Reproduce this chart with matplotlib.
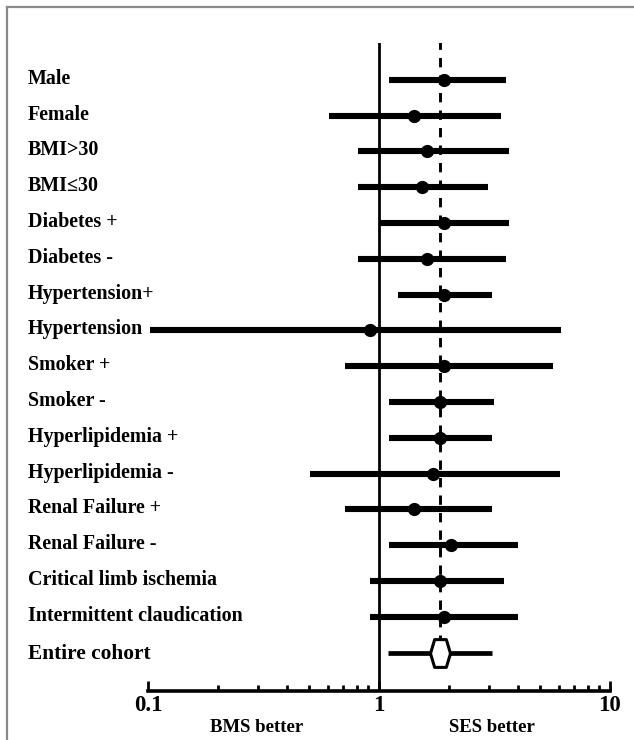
import matplotlib
matplotlib.use("Agg")
import matplotlib.pyplot as plt
from matplotlib.lines import Line2D
from matplotlib.path import Path
from matplotlib.transforms import blended_transform_factory

# Subgroup hazard ratios with 95% confidence limits (log scale)
subgroups = [
    "Male", "Female", "BMI>30", "BMI\u226430", "Diabetes +", "Diabetes -",
    "Hypertension+", "Hypertension", "Smoker +", "Smoker -",
    "Hyperlipidemia +", "Hyperlipidemia -", "Renal Failure +", "Renal Failure -",
    "Critical limb ischemia", "Intermittent claudication",
]
estimate = [1.92, 1.42, 1.62, 1.53, 1.92, 1.62, 1.92, 0.91, 1.92, 1.83,
            1.83, 1.72, 1.42, 2.04, 1.83, 1.92]
lower = [1.11, 0.605, 0.81, 0.81, 1.0, 0.81, 1.21, 0.102, 0.71, 1.11,
         1.11, 0.505, 0.716, 1.11, 0.91, 0.91]
upper = [3.56, 3.36, 3.67, 2.95, 3.67, 3.56, 3.07, 6.11, 5.69, 3.16,
         3.07, 6.05, 3.07, 4.01, 3.46, 4.01]

cohort_label = "Entire cohort"
cohort_estimate = 1.83
cohort_lower = 1.09
cohort_upper = 3.08

tick_values = [0.1, 1, 10]
tick_labels = ["0.1", "1", "10"]

plt.rcParams["font.family"] = ["Liberation Serif", "DejaVu Serif"]
plt.rcParams["font.weight"] = "bold"

fig = plt.figure(figsize=(6.34, 7.40), dpi=100)
ax = fig.add_axes([148 / 634, 1 - 691 / 740, 462 / 634, (691 - 43) / 740])

n = len(subgroups)
rows = list(range(n))
cohort_row = n

# reference lines: no effect and overall estimate
ax.axvline(1, color="black", lw=2.0, zorder=1)
ax.plot([cohort_estimate, cohort_estimate], [-1.1, cohort_row], color="black",
        lw=2.1, linestyle=(0, (3.2, 2.8)), zorder=1)

for y, lo, hi, est in zip(rows, lower, upper, estimate):
    ax.plot([lo, hi], [y, y], color="black", lw=4.4, solid_capstyle="butt", zorder=2)
    ax.plot([est], [y], marker="o", color="black", markersize=8.5, zorder=3)

# overall estimate drawn as an open hexagon
hexagon = Path([(-0.72, 0), (-0.42, 1), (0.42, 1), (0.72, 0), (0.42, -1), (-0.42, -1), (-0.72, 0)],
               closed=True)
ax.plot([cohort_lower, cohort_upper], [cohort_row, cohort_row], color="black",
        lw=3.4, solid_capstyle="butt", zorder=2)
ax.plot([cohort_estimate], [cohort_row], marker=hexagon, markersize=20,
        markerfacecolor="white", markeredgecolor="black", markeredgewidth=2.2, zorder=4)

ax.set_xscale("log")
ax.set_xlim(0.1, 10)
ax.set_ylim(17.07, -1.03)

for side in ("top", "right", "left"):
    ax.spines[side].set_visible(False)
ax.spines["bottom"].set_linewidth(2.6)
ax.set_yticks([])
ax.set_xticks(tick_values)
ax.set_xticklabels(tick_labels, fontsize=16.5, fontweight="bold")
ax.tick_params(axis="x", which="major", direction="in", length=7, width=2, pad=3)
ax.tick_params(axis="x", which="minor", direction="in", length=4.5, width=2)
ax.xaxis.set_minor_formatter(matplotlib.ticker.NullFormatter())

label_tr = blended_transform_factory(fig.transFigure, ax.transData)
for y, name in zip(rows, subgroups):
    ax.text(28 / 634, y - 0.03, name, transform=label_tr, ha="left", va="center",
            fontsize=14.4, fontweight="bold")
ax.text(28 / 634, cohort_row + 0.03, cohort_label, transform=label_tr, ha="left",
        va="center", fontsize=15.4, fontweight="bold")

fig.text(257 / 634, 1 - 727 / 740, "BMS better", ha="center", va="center",
         fontsize=13.5, fontweight="bold")
fig.text(492 / 634, 1 - 727 / 740, "SES better", ha="center", va="center",
         fontsize=13.5, fontweight="bold")

# thin grey frame along the top and left edges
fig.add_artist(Line2D([7 / 634, 1], [1 - 7 / 740, 1 - 7 / 740], transform=fig.transFigure,
                      color="#8a8a8a", lw=1.6))
fig.add_artist(Line2D([7 / 634, 7 / 634], [0, 1 - 7 / 740], transform=fig.transFigure,
                      color="#8a8a8a", lw=1.6))

fig.savefig("out.png", dpi=100, facecolor="white")
